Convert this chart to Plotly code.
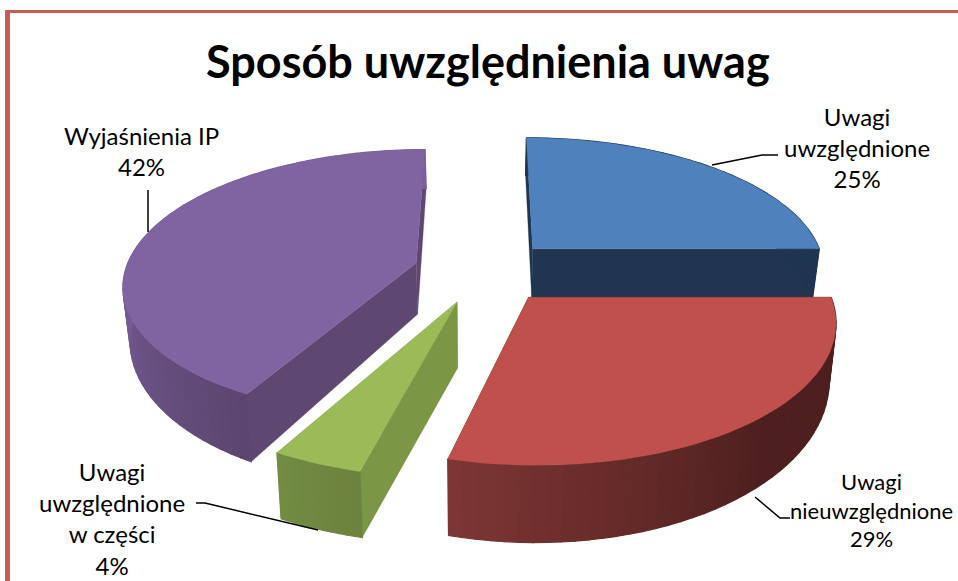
import numpy as np
import plotly.graph_objects as go

# Data
categories = ["Uwagi uwzględnione", "Uwagi nieuwzględnione", "Uwagi uwzględnione w części", "Wyjaśnienia IP"]
values = [25, 29, 4, 42]
label_texts = ["Uwagi<br>uwzględnione<br>25%", "Uwagi<br>nieuwzględnione<br>29%",
               "Uwagi<br>uwzględnione<br>w części<br>4%", "Wyjaśnienia IP<br>42%"]
title_text = "Sposób uwzględnienia uwag"

# Styles
top_colors = ["#4F81BD", "#C0504D", "#9BBB59", "#8064A2"]
wall_colors = ["#1F3550", "#4D1F1E", "#7B9645", "#5E4770"]
# outer wall colour as (stop along arc, colour)
rim_stops = [
    [(0, (31, 53, 80)), (1, (31, 53, 80))],
    [(0, (77, 31, 30)), (0.45, (77, 31, 30)), (1, (124, 54, 52))],
    [(0, (108, 130, 62)), (1, (114, 140, 66))],
    [(0, (92, 70, 112)), (0.45, (122, 96, 155)), (1, (122, 96, 155))],
]
draw_order = [0, 3, 2, 1]

# 3D pie projection
CX, CY = 484, 271
A, B, K = 294, 134, 0.151
EXPLODE = 0.24
slice_radius = [1.0, 1.0, 1.03, 0.99]
slice_depth = [52, 52, 66, 52]
slice_depth_power = [2, 2, 0, 2]


def project(x, y, z, depth=52, power=2):
    """World coordinates (radius 1, y towards the viewer, z=1 bottom) to pixels."""
    p = 1 / (1 - K * y)
    shrink = 1 - 0.02 * z
    return (CX + x * A * p * shrink, CY + y * B * p + z * depth * p ** power)


def rim_color(stops, t):
    for (t0, c0), (t1, c1) in zip(stops, stops[1:]):
        if t <= t1:
            f = (t - t0) / (t1 - t0)
            return "rgb(%d,%d,%d)" % tuple(round(a + (b - a) * f) for a, b in zip(c0, c1))
    return "rgb(%d,%d,%d)" % stops[-1][1]


fig = go.Figure()


def poly(points, color, name, width=1.0):
    xs, ys = zip(*points)
    fig.add_trace(go.Scatter(x=list(xs) + [xs[0]], y=list(ys) + [ys[0]], mode="lines",
                             fill="toself", fillcolor=color,
                             line=dict(color=color, width=width),
                             hoverinfo="text", text=name, showlegend=False))


total = sum(values)
cum = np.cumsum([0] + values)
for i in draw_order:
    a0 = 2 * np.pi * cum[i] / total
    a1 = 2 * np.pi * cum[i + 1] / total
    mid = (a0 + a1) / 2
    ox, oy = EXPLODE * np.sin(mid), -EXPLODE * np.cos(mid)
    th = np.linspace(a0, a1, max(12, int(values[i] * 1.6)))
    px = ox + slice_radius[i] * np.sin(th)
    py = oy - slice_radius[i] * np.cos(th)
    name = f"{categories[i]}: {values[i]}%"
    d, pw = slice_depth[i], slice_depth_power[i]
    # cut walls first: those facing away end up behind the outer wall and top
    for k in (0, -1):
        poly([project(ox, oy, 0, d, pw), project(px[k], py[k], 0, d, pw),
              project(px[k], py[k], 1, d, pw), project(ox, oy, 1, d, pw)], wall_colors[i], name, 0.3)
    # outer wall, in narrow strips for the shading
    for j in range(len(th) - 1):
        poly([project(px[j], py[j], 0, d, pw), project(px[j + 1], py[j + 1], 0, d, pw),
              project(px[j + 1], py[j + 1], 1, d, pw), project(px[j], py[j], 1, d, pw)],
             rim_color(rim_stops[i], j / (len(th) - 2)), name, 1.2)
    # top face
    poly([project(ox, oy, 0, d, pw)] + [project(a, b, 0, d, pw) for a, b in zip(px, py)],
         top_colors[i], name, 0.3)

# leader lines
leaders = [
    ([712, 762, 778], [165, 155, 155]),
    ([755, 780, 790], [497, 518, 518]),
    ([196, 205, 318], [503, 503, 530]),
    ([148, 148], [232, 190]),
]
for lx, ly in leaders:
    fig.add_trace(go.Scatter(x=lx, y=ly, mode="lines", line=dict(color="black", width=1.5),
                             hoverinfo="skip", showlegend=False))

label_pos = [(857, 147), (871, 510), (112, 518), (141, 151)]
label_sizes = [24, 22, 24, 24]
for txt, (x, y), sz in zip(label_texts, label_pos, label_sizes):
    fig.add_annotation(x=x, y=y, text=txt, showarrow=False, xanchor="center", yanchor="middle",
                       align="center", font=dict(family="Lato", size=sz, color="black"))

fig.add_annotation(x=488, y=61, text=f"<b>{title_text}</b>", showarrow=False,
                   font=dict(family="Lato", size=45, color="black"))

# chart frame
frame = [dict(type="line", x0=5, x1=958, y0=11.5, y1=11.5, line=dict(color="#C75B58", width=3)),
         dict(type="line", x0=7.5, x1=7.5, y0=10, y1=581, line=dict(color="#C75B58", width=5))]

fig.update_layout(
    width=958, height=581, margin=dict(l=0, r=0, t=0, b=0),
    paper_bgcolor="white", plot_bgcolor="white", showlegend=False, shapes=frame,
    xaxis=dict(range=[0, 958], visible=False, fixedrange=True),
    yaxis=dict(range=[581, 0], visible=False, fixedrange=True),
)
fig.write_html("out.html", config={"displayModeBar": False},
               post_script="document.body.style.margin='0';document.body.style.overflow='hidden';")
